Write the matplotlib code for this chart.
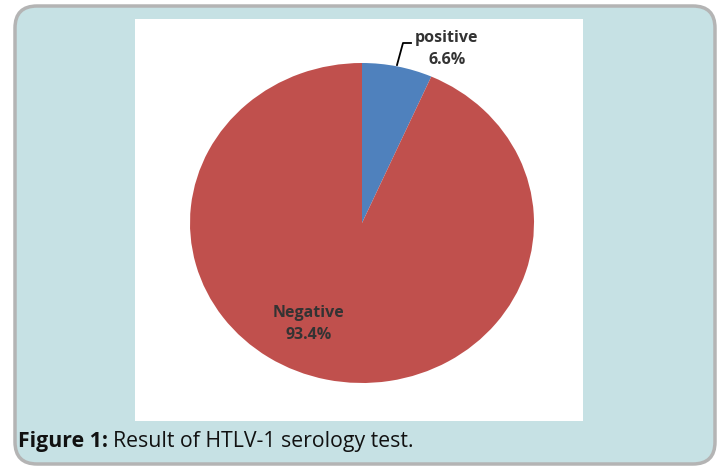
import matplotlib
matplotlib.use("Agg")
import matplotlib.pyplot as plt
from matplotlib.patches import FancyBboxPatch, Rectangle

# data
labels = ["positive", "Negative"]
values = [6.6, 93.4]
colors = ["#4f81bd", "#c0504d"]

W, H = 718, 468
fig = plt.figure(figsize=(W / 100, H / 100), dpi=100)
fig.patch.set_facecolor("white")

# background panel, pixel coords (y down)
bg = fig.add_axes([0, 0, 1, 1])
bg.set_xlim(0, W)
bg.set_ylim(H, 0)
bg.axis("off")
bg.add_patch(FancyBboxPatch((15, 6), 700, 458, boxstyle="round,pad=0,rounding_size=22",
                            facecolor="#c6e1e4", edgecolor="#b4b4b4", linewidth=2.5))
bg.add_patch(Rectangle((135, 19), 448, 402, facecolor="white", edgecolor="none"))

# pie axes over the drawn ellipse
cx, cy, rx, ry = 362, 223, 172, 160
ax = fig.add_axes([(cx - rx) / W, 1 - (cy + ry) / H, 2 * rx / W, 2 * ry / H])
ax.pie(values, colors=colors, startangle=90, counterclock=False,
       wedgeprops=dict(linewidth=0))
ax.set_aspect("auto")
ax.set_xlim(-1, 1)
ax.set_ylim(-1, 1)
ax.axis("off")

def px(x, y):
    return (x - cx) / rx, (cy - y) / ry

lab_font = dict(family="Open Sans", fontsize=11.5, fontweight="bold", color="#333333",
                ha="center", va="center", linespacing=1.45)
tx, ty = px(447, 49)
ax.text(tx, ty, f"{labels[0]}\n{values[0]}%", **lab_font, clip_on=False)
tx, ty = px(309, 324)
ax.text(tx, ty, f"{labels[1]}\n{values[1]}%", **lab_font)

# leader line for the small slice
lx = [px(397, 65)[0], px(403, 43)[0], px(411, 43)[0]]
ly = [px(397, 65)[1], px(403, 43)[1], px(411, 43)[1]]
ax.plot(lx, ly, color="black", linewidth=1.3, clip_on=False)

# caption
t1 = bg.text(18, 441, "Figure 1:", fontsize=15.3, fontweight="bold", family="Open Sans",
             color="#111111", va="center", ha="left")
fig.canvas.draw()
bb = t1.get_window_extent()
x_end = bb.x1
bg.text(x_end + 5, 441, "Result of HTLV-1 serology test.", fontsize=15.3, family="Open Sans",
        color="#111111", va="center", ha="left")

fig.savefig("out.png", dpi=100)
